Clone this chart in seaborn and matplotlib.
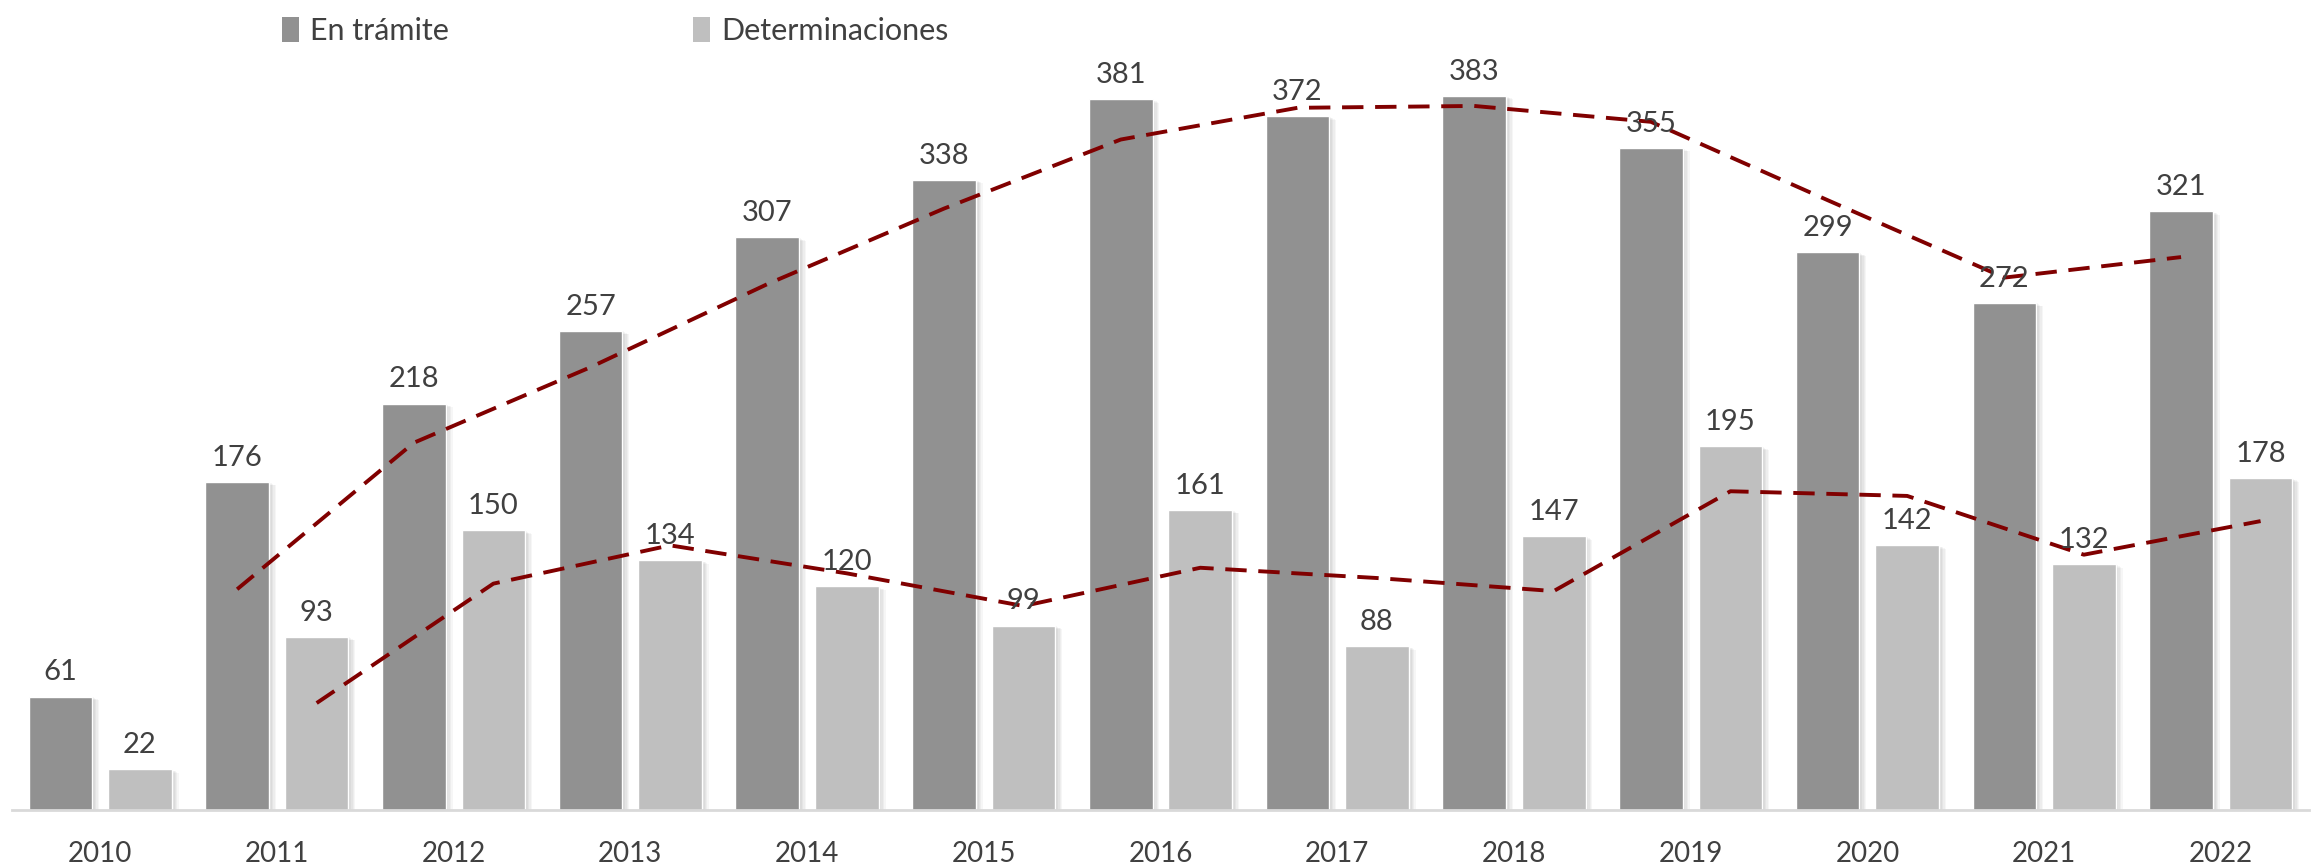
import matplotlib
matplotlib.use("Agg")
import matplotlib.pyplot as plt
import seaborn as sns
import pandas as pd
import numpy as np
from matplotlib import patheffects as pe
from matplotlib.patches import Patch

years = ["2010", "2011", "2012", "2013", "2014", "2015", "2016",
         "2017", "2018", "2019", "2020", "2021", "2022"]
en_tramite = [61, 176, 218, 257, 307, 338, 381, 372, 383, 355, 299, 272, 321]
determinaciones = [22, 93, 150, 134, 120, 99, 161, 88, 147, 195, 142, 132, 178]
series_names = ["En trámite", "Determinaciones"]
colors = ["#919191", "#bfbfbf"]

sns.set_theme(style="white")
plt.rcParams["font.family"] = ["Lato", "DejaVu Sans"]

df = pd.DataFrame({
    "year": years * 2,
    "value": en_tramite + determinaciones,
    "serie": [series_names[0]] * len(years) + [series_names[1]] * len(years),
})

fig = plt.figure(figsize=(23.18, 8.65), dpi=100)
ax = fig.add_axes([0.0051, 0.0632, 0.9911, 0.906])

sns.barplot(data=df, x="year", y="value", hue="serie", palette=colors,
            width=0.90, gap=0.20, ax=ax, legend=False, saturation=1)

shadow = [pe.SimplePatchShadow(offset=(k, -k * 0.5), shadow_rgbFace="#000000", alpha=0.035)
          for k in (1, 2, 3, 4, 5)]
for p in ax.patches:
    p.set_path_effects(shadow + [pe.Normal()])

text_color = "#404040"
for cont in ax.containers:
    ax.bar_label(cont, fmt="%d", padding=8, fontsize=21, color=text_color)

# two-period moving averages
off = 0.225
x = np.arange(len(years))
ma_en = pd.Series(en_tramite).rolling(2).mean()
ma_de = pd.Series(determinaciones).rolling(2).mean()
trend = pd.DataFrame({
    "x": np.concatenate([x[1:] - off, x[1:] + off]),
    "y": np.concatenate([ma_en.values[1:], ma_de.values[1:]]),
    "s": ["en"] * (len(x) - 1) + ["de"] * (len(x) - 1),
})
for s in ["en", "de"]:
    d = trend[trend.s == s]
    sns.lineplot(x=d["x"].values, y=d["y"].values, ax=ax, color="#800000",
                 linewidth=2.8, linestyle=(0, (5.5, 3)), legend=False)

ax.set_xlim(-0.5, 12.5)
ax.set_ylim(0, 420)
ax.set_xlabel("")
ax.set_ylabel("")
ax.set_yticks([])
for sp in ["top", "right", "left"]:
    ax.spines[sp].set_visible(False)
ax.spines["bottom"].set_color("#d9d9d9")
ax.spines["bottom"].set_linewidth(2)
ax.tick_params(axis="x", length=0, pad=22, labelsize=20, labelcolor=text_color)

handles = [Patch(facecolor=c, edgecolor="none") for c in colors]
fig.legend(handles, series_names, loc="upper left", bbox_to_anchor=(0.110, 1.012),
           ncol=2, frameon=False, fontsize=22, labelcolor=text_color,
           handlelength=0.55, handleheight=0.85, handletextpad=0.35, columnspacing=8.0)

fig.savefig("out.png", dpi=100)
